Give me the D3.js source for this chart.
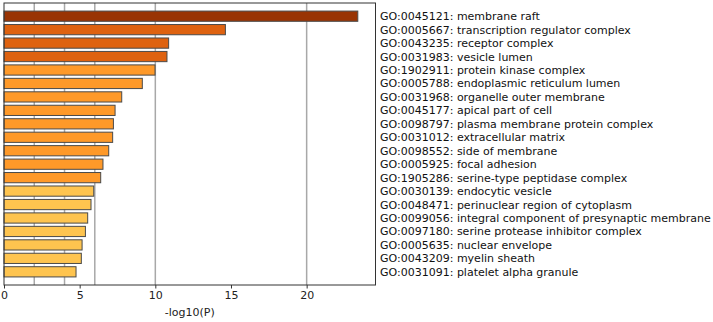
<!DOCTYPE html>
<html>
<head>
<meta charset="utf-8">
<script src="https://cdn.jsdelivr.net/npm/d3@7"></script>
<style>
  body { margin: 0; background: #fff; }
  svg text { font-family: "DejaVu Sans", sans-serif; }
</style>
</head>
<body>
<svg id="chart" width="713" height="322"></svg>
<script>
// GO terms, top to bottom
const terms = [
  "GO:0045121: membrane raft",
  "GO:0005667: transcription regulator complex",
  "GO:0043235: receptor complex",
  "GO:0031983: vesicle lumen",
  "GO:1902911: protein kinase complex",
  "GO:0005788: endoplasmic reticulum lumen",
  "GO:0031968: organelle outer membrane",
  "GO:0045177: apical part of cell",
  "GO:0098797: plasma membrane protein complex",
  "GO:0031012: extracellular matrix",
  "GO:0098552: side of membrane",
  "GO:0005925: focal adhesion",
  "GO:1905286: serine-type peptidase complex",
  "GO:0030139: endocytic vesicle",
  "GO:0048471: perinuclear region of cytoplasm",
  "GO:0099056: integral component of presynaptic membrane",
  "GO:0097180: serine protease inhibitor complex",
  "GO:0005635: nuclear envelope",
  "GO:0043209: myelin sheath",
  "GO:0031091: platelet alpha granule"
];

// -log10(P)
const logP = [23.38, 14.63, 10.88, 10.77, 9.98, 9.14, 7.78, 7.34, 7.23, 7.18,
              6.92, 6.54, 6.39, 5.93, 5.75, 5.53, 5.38, 5.16, 5.11, 4.76];

const xTicks = [0, 5, 10, 15, 20];
const gridLines = [2, 4, 6, 10, 20];

const data = terms.map((t, i) => ({ term: t, v: logP[i] }));

const svg = d3.select("#chart");
const plot = { left: 4, right: 375.5, top: 3, bottom: 285 };

const x = d3.scaleLinear().domain([0, 24.55]).range([plot.left, plot.right]);
const y = d3.scaleBand().domain(terms).range([plot.top, plot.bottom])
            .paddingInner(0.24).paddingOuter(0.6);

// colour by significance level
const color = v => v >= 20 ? "#993404" : v >= 10 ? "#de6210" : v >= 6.2 ? "#fe9929" : "#fec44f";

// gridlines
svg.selectAll("line.grid")
  .data(gridLines)
  .enter().append("line")
    .attr("class", "grid")
    .attr("x1", d => x(d)).attr("x2", d => x(d))
    .attr("y1", plot.top).attr("y2", plot.bottom)
    .attr("stroke", "#a8a8a8")
    .attr("stroke-width", 1.5);

// bars
svg.selectAll("rect.bar")
  .data(data)
  .enter().append("rect")
    .attr("class", "bar")
    .attr("x", x(0))
    .attr("y", d => y(d.term))
    .attr("width", d => x(d.v) - x(0))
    .attr("height", y.bandwidth())
    .attr("fill", d => color(d.v))
    .attr("stroke", "#4a4a4a")
    .attr("stroke-width", 1);

// frame
svg.append("rect")
  .attr("x", plot.left).attr("y", plot.top)
  .attr("width", plot.right - plot.left).attr("height", plot.bottom - plot.top)
  .attr("fill", "none")
  .attr("stroke", "#333")
  .attr("stroke-width", 1);

// x axis
const ax = svg.append("g")
  .attr("transform", `translate(0,${plot.bottom})`)
  .call(d3.axisBottom(x).tickValues(xTicks).tickSize(3.5).tickPadding(3));
ax.select(".domain").remove();
ax.selectAll("line").attr("stroke", "#333");
ax.selectAll("text")
  .style("font-size", "11px")
  .attr("fill", "#222");

svg.append("text")
  .attr("x", (plot.left + plot.right) / 2)
  .attr("y", 316)
  .attr("text-anchor", "middle")
  .style("font-size", "11px")
  .attr("fill", "#222")
  .text("-log10(P)");

// term labels
svg.selectAll("text.term")
  .data(data)
  .enter().append("text")
    .attr("class", "term")
    .attr("x", 380)
    .attr("y", d => y(d.term) + y.bandwidth() / 2)
    .attr("dy", "0.36em")
    .style("font-size", "11px")
    .attr("fill", "#111")
    .text(d => d.term);
</script>
</body>
</html>
